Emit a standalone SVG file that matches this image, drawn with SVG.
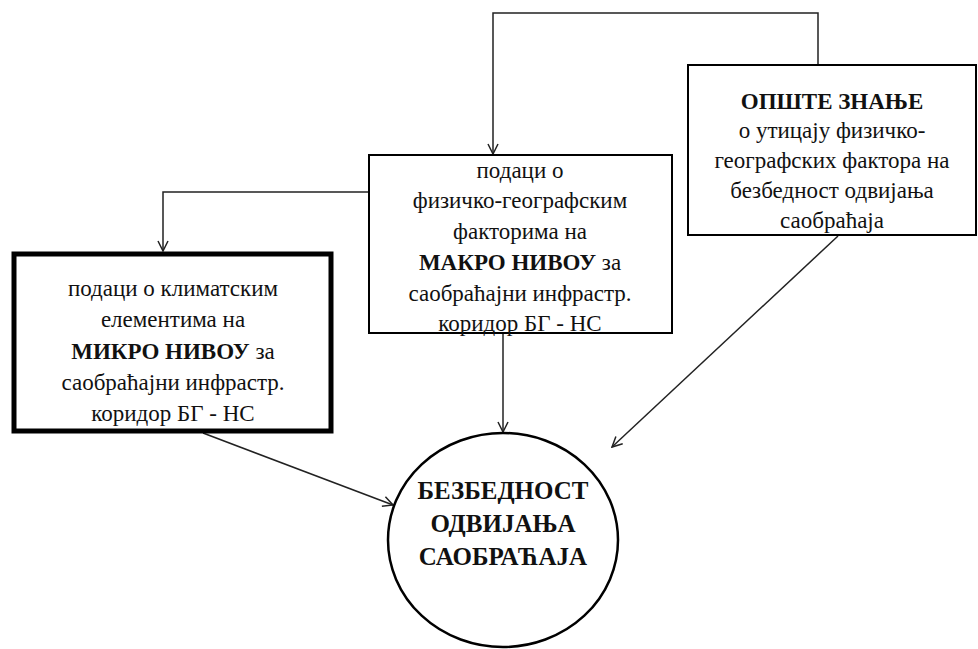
<svg xmlns="http://www.w3.org/2000/svg" width="978" height="649" viewBox="0 0 978 649">
<defs>
  <marker id="arr" viewBox="0 0 12 12" refX="11" refY="6" markerWidth="12" markerHeight="12" markerUnits="userSpaceOnUse" orient="auto">
    <path d="M1,1 L11,6 L1,11" fill="none" stroke="#222" stroke-width="1.5"/>
  </marker>
</defs>
<rect width="978" height="649" fill="#fff"/>
<g id="connectors" fill="none" stroke="#222" stroke-width="1.5">
  <path d="M818,65 V13 H493 V154" marker-end="url(#arr)"/>
  <path d="M369,192 H163 V251" marker-end="url(#arr)"/>
  <path d="M503,333 V432" marker-end="url(#arr)"/>
  <path d="M203,433 L393,505" marker-end="url(#arr)"/>
  <path d="M838,236 L612,447" marker-end="url(#arr)"/>
</g>
<g id="micro">
  <rect x="14" y="254" width="317" height="177" fill="#fff" stroke="#000" stroke-width="5"/>
  <text font-family="Liberation Serif" font-size="23" fill="#111" text-anchor="middle" x="173" y="296">подаци о климатским</text>
  <text font-family="Liberation Serif" font-size="23" fill="#111" text-anchor="middle" x="173" y="327">елементима на</text>
  <text font-family="Liberation Serif" font-size="23" fill="#111" text-anchor="middle" x="173" y="359"><tspan font-weight="bold">МИКРО НИВОУ</tspan> за</text>
  <text font-family="Liberation Serif" font-size="23" fill="#111" text-anchor="middle" x="173" y="390">саобраћајни инфрастр.</text>
  <text font-family="Liberation Serif" font-size="23" fill="#111" text-anchor="middle" x="173" y="421">коридор БГ - НС</text>
</g>
<g id="macro">
  <rect x="369" y="155" width="303" height="178" fill="#fff" stroke="#000" stroke-width="2"/>
  <text font-family="Liberation Serif" font-size="23" fill="#111" text-anchor="middle" x="520" y="178">подаци о</text>
  <text font-family="Liberation Serif" font-size="23" fill="#111" text-anchor="middle" x="520" y="208">физичко-географским</text>
  <text font-family="Liberation Serif" font-size="23" fill="#111" text-anchor="middle" x="520" y="239">факторима на</text>
  <text font-family="Liberation Serif" font-size="23" fill="#111" text-anchor="middle" x="520" y="270"><tspan font-weight="bold">МАКРО НИВОУ</tspan> за</text>
  <text font-family="Liberation Serif" font-size="23" fill="#111" text-anchor="middle" x="520" y="301">саобраћајни инфрастр.</text>
  <text font-family="Liberation Serif" font-size="23" fill="#111" text-anchor="middle" x="520" y="331">коридор БГ - НС</text>
</g>
<g id="general">
  <rect x="688" y="65" width="288" height="170" fill="#fff" stroke="#000" stroke-width="2"/>
  <text font-family="Liberation Serif" font-size="23" font-weight="bold" fill="#111" text-anchor="middle" x="832" y="109">ОПШТЕ ЗНАЊЕ</text>
  <text font-family="Liberation Serif" font-size="23" fill="#111" text-anchor="middle" x="832" y="138">о утицају физичко-</text>
  <text font-family="Liberation Serif" font-size="23" fill="#111" text-anchor="middle" x="832" y="168">географских фактора на</text>
  <text font-family="Liberation Serif" font-size="23" fill="#111" text-anchor="middle" x="832" y="198">безбедност одвијања</text>
  <text font-family="Liberation Serif" font-size="23" fill="#111" text-anchor="middle" x="832" y="228">саобраћаја</text>
</g>
<g id="safety">
  <ellipse cx="503" cy="540" rx="115" ry="107" fill="#fff" stroke="#000" stroke-width="2.5"/>
  <text font-family="Liberation Serif" font-size="25" font-weight="bold" fill="#111" text-anchor="middle" x="503" y="499">БЕЗБЕДНОСТ</text>
  <text font-family="Liberation Serif" font-size="25" font-weight="bold" fill="#111" text-anchor="middle" x="503" y="532">ОДВИЈАЊА</text>
  <text font-family="Liberation Serif" font-size="25" font-weight="bold" fill="#111" text-anchor="middle" x="503" y="565">САОБРАЋАЈА</text>
</g>
</svg>
